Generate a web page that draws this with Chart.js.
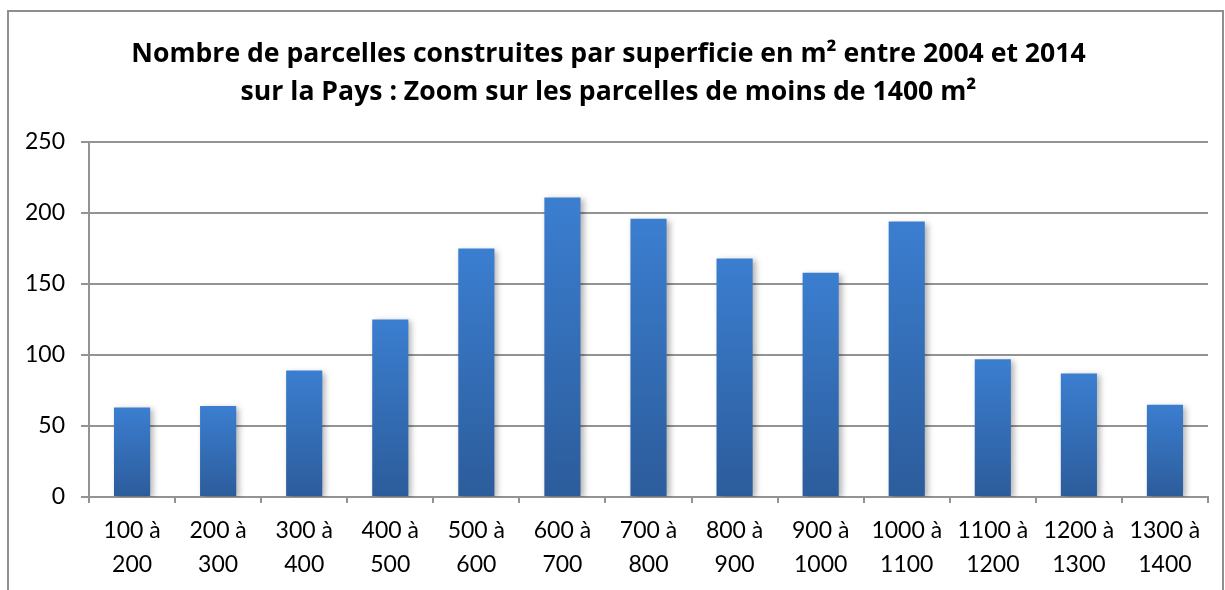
<!DOCTYPE html>
<html>
<head>
<meta charset="utf-8">
<script src="https://cdn.jsdelivr.net/npm/chart.js@4"></script>
<style>
  html, body { margin: 0; padding: 0; background: #fff; overflow: hidden; }
  #frame {
    position: absolute; left: 7px; top: 10px;
    width: 1213px; height: 600px;
    border: 2px solid #8f8f8f; border-bottom: none;
  }
</style>
</head>
<body>
<div id="frame"><canvas id="myChart" width="1213" height="600"></canvas></div>
<script>
const tranches = [
  ["100 à", "200"], ["200 à", "300"], ["300 à", "400"], ["400 à", "500"],
  ["500 à", "600"], ["600 à", "700"], ["700 à", "800"], ["800 à", "900"],
  ["900 à", "1000"], ["1000 à", "1100"], ["1100 à", "1200"], ["1200 à", "1300"],
  ["1300 à", "1400"]
];
const parcelles = [63, 64, 89, 125, 175, 211, 196, 168, 158, 194, 97, 87, 65];
const titre = [
  "Nombre de parcelles construites par superficie en m² entre 2004 et 2014",
  "sur la Pays : Zoom sur les parcelles de moins de 1400 m²"
];

const grille = "#939393";

// degradé vertical propre à chaque barre
function barGradient(context) {
  const chart = context.chart;
  const y = chart.scales.y;
  if (!chart.chartArea || !y || context.dataIndex === undefined) return "#3a7bcc";
  const top = y.getPixelForValue(parcelles[context.dataIndex]);
  const bottom = y.getPixelForValue(0);
  if (!isFinite(top) || !isFinite(bottom) || top === bottom) return "#3a7bcc";
  const g = chart.ctx.createLinearGradient(0, top, 0, bottom);
  g.addColorStop(0, "#3b7ed0");
  g.addColorStop(1, "#2c5c9b");
  return g;
}

// ombre portée légère sous les barres
const ombre = {
  id: "ombre",
  beforeDatasetsDraw(chart) {
    const ctx = chart.ctx;
    ctx.save();
    ctx.shadowColor = "rgba(0,0,0,0.3)";
    ctx.shadowBlur = 6;
    ctx.shadowOffsetX = 3;
    ctx.shadowOffsetY = 2;
  },
  afterDatasetsDraw(chart) {
    chart.ctx.restore();
  }
};

const myChart = document.getElementById("myChart");
new Chart(myChart, {
  type: "bar",
  data: {
    labels: tranches,
    datasets: [{
      label: "Parcelles",
      data: parcelles,
      backgroundColor: barGradient,
      categoryPercentage: 1,
      barPercentage: 0.42
    }]
  },
  options: {
    responsive: false,
    animation: false,
    layout: { padding: { left: 0, right: 14, top: 23, bottom: 19 } },
    plugins: {
      legend: { display: false },
      tooltip: { enabled: false },
      title: {
        display: true,
        text: titre,
        color: "#000",
        font: { family: "Open Sans", size: 26.6, weight: "bold", lineHeight: 1.43 },
        padding: { top: 0, bottom: 31 }
      }
    },
    scales: {
      y: {
        min: 0,
        max: 250,
        ticks: {
          stepSize: 50,
          color: "#000",
          padding: 16,
          font: { family: "Lato", size: 23 }
        },
        grid: { color: grille, lineWidth: 2, tickLength: 8 },
        border: { color: grille, width: 2 }
      },
      x: {
        ticks: {
          color: "#000",
          padding: 11,
          maxRotation: 0,
          autoSkip: false,
          font: { family: "Lato", size: 23, lineHeight: 1.48 }
        },
        grid: { drawOnChartArea: false, color: grille, lineWidth: 2, tickLength: 6 },
        border: { color: grille, width: 2 }
      }
    }
  },
  plugins: [ombre]
});
</script>
</body>
</html>
